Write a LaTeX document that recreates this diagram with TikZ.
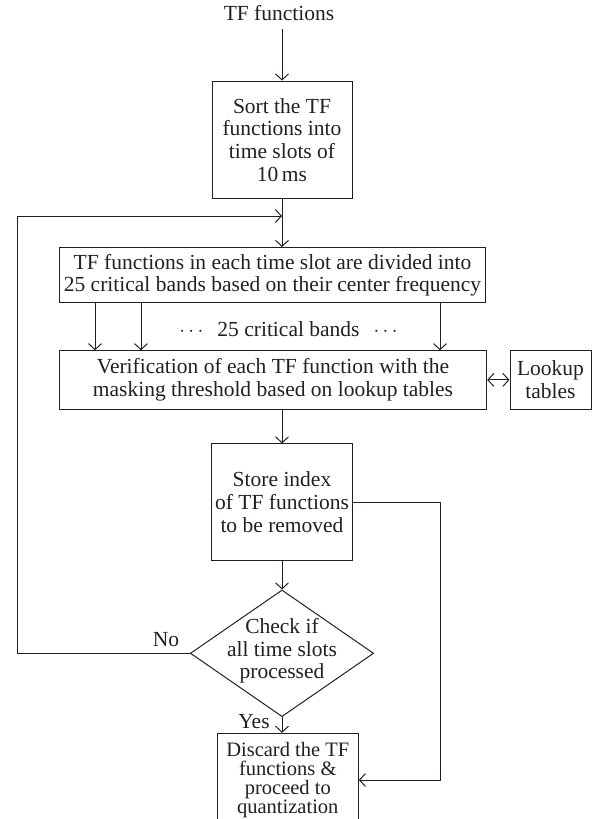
\documentclass[tikz,border=0pt]{standalone}
\usepackage{fontspec}
\setmainfont{Liberation Serif}
\usetikzlibrary{arrows.meta,shapes.geometric,calc}
\definecolor{ink}{RGB}{35,31,32}
\begin{document}
\begin{tikzpicture}[x=1pt,y=-1pt,
  every node/.style={text=ink, font=\fontsize{21.5}{22.7}\selectfont},
  box/.style={draw=ink, line width=1pt, inner sep=0pt, align=center},
  arr/.style={draw=ink, line width=1pt, -{Straight Barb[length=6pt,width=13pt]}},
  dbl/.style={draw=ink, line width=1pt, {Straight Barb[length=6pt,width=13pt]}-{Straight Barb[length=6pt,width=13pt]}}]
\useasboundingbox (0,0) rectangle (600,819);
\clip (0,0) rectangle (600,819);

\node[anchor=base, inner sep=8pt] (title) at (279,20.7) {TF functions};
\node[box, minimum width=140pt, minimum height=117.7pt] (sort) at (282,139.9)
  {Sort the TF\\functions into\\time slots of\\10\,ms};
\node[box, minimum width=426.4pt, minimum height=55.2pt] (divide) at (272.5,275.1)
  {TF functions in each time slot are divided into\\25 critical bands based on their center frequency};
\node[anchor=base] (bands) at (288.5,336)
  {$\cdots$\hspace{14pt}25 critical bands\hspace{14pt}$\cdots$};
\node[box, minimum width=427.4pt, minimum height=58.3pt] (verify) at (273,379.9)
  {Verification of each TF function with the\\masking threshold based on lookup tables};
\node[box, minimum width=81pt, minimum height=58.3pt] (lookup) at (550.5,379.9)
  {Lookup\\tables};
\node[box, minimum width=140.6pt, minimum height=116.7pt] (store) at (282,502.3)
  {Store index\\of TF functions\\to be removed};
\node[draw=ink, line width=1pt, diamond, minimum width=183.3pt, minimum height=126.7pt, inner sep=0pt] (check) at (282,653.3) {};
\node[align=center] (checktext) at (282,651) {Check if\\all time slots\\processed};
\node[box, minimum width=141pt, minimum height=93.4pt, font=\fontsize{20.5}{19}\selectfont] (discard) at (287.8,780)
  {Discard the TF\\functions \&\\proceed to\\quantization};
\node[anchor=base] (no) at (166,646) {No};
\node[anchor=base] (yes) at (254,728.3) {Yes};

\coordinate (b1) at (95,0);
\coordinate (b2) at (141,0);
\coordinate (b3) at (440,0);
\coordinate (rt) at (440,780);
\coordinate (lp) at (17.3,216);

\draw[arr] (sort.north |- title.south) -- (sort.north);
\draw[arr] (sort.south) -- (sort.south |- divide.north);
\foreach \b in {b1,b2,b3} \draw[arr] (divide.south -| \b) -- (verify.north -| \b);
\draw[dbl] (verify.east) -- (lookup.west);
\draw[arr] (verify.south -| store.north) -- (store.north);
\draw[arr] (store.south) -- (check.north);
\draw[arr] (check.south) -- (discard.north -| check.south);
\draw[arr] (store.east) -| (rt) -- (discard.east);
\draw[arr] (check.west) -| (lp) -- (sort.south |- lp);
\end{tikzpicture}
\end{document}
